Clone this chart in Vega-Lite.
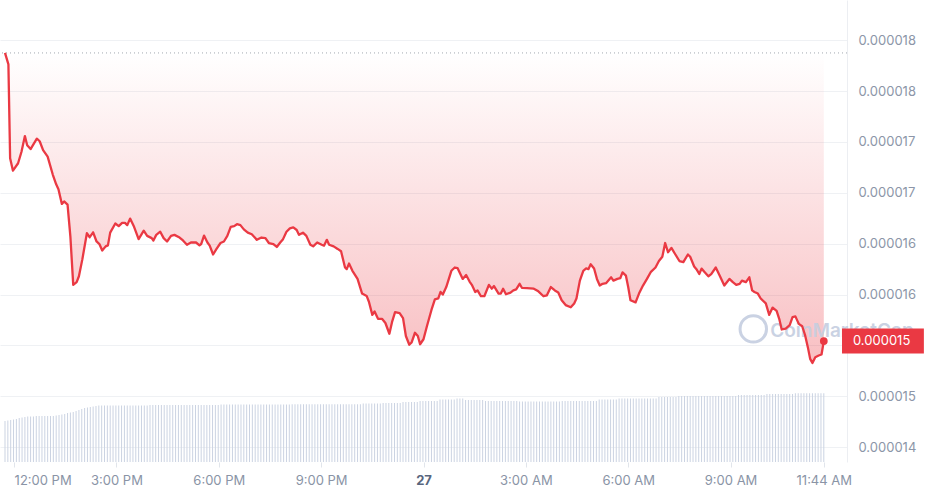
{
"$schema":"https://vega.github.io/schema/vega-lite/v6.json",
"width":847,"height":462,"autosize":{"type":"none"},"padding":{"left":0,"top":0,"right":81,"bottom":33},"background":"#ffffff",
"config":{"view":{"stroke":null},"font":"Inter"},
"datasets":{
"last":[{"t":"2024-06-27T11:44","p":0.000015243}],
"price":[
{"t":"2024-06-26T11:44","p":0.000018075},{"t":"2024-06-26T11:50","p":0.000017962},{"t":"2024-06-26T11:53","p":0.000017039},{"t":"2024-06-26T11:58","p":0.000016918},{"t":"2024-06-26T12:07","p":0.000016991},{"t":"2024-06-26T12:13","p":0.000017104},{"t":"2024-06-26T12:19","p":0.000017258},{"t":"2024-06-26T12:23","p":0.000017168},{"t":"2024-06-26T12:29","p":0.000017130},{"t":"2024-06-26T12:40","p":0.000017232},{"t":"2024-06-26T12:45","p":0.000017207},{"t":"2024-06-26T12:51","p":0.000017120},{"t":"2024-06-26T12:59","p":0.000017056},{"t":"2024-06-26T13:08","p":0.000016880},{"t":"2024-06-26T13:14","p":0.000016784},{"t":"2024-06-26T13:18","p":0.000016736},{"t":"2024-06-26T13:24","p":0.000016591},{"t":"2024-06-26T13:28","p":0.000016616},{"t":"2024-06-26T13:34","p":0.000016585},{"t":"2024-06-26T13:39","p":0.000016270},{"t":"2024-06-26T13:44","p":0.000015796},{"t":"2024-06-26T13:50","p":0.000015822},{"t":"2024-06-26T13:54","p":0.000015880},{"t":"2024-06-26T14:00","p":0.000016046},{"t":"2024-06-26T14:08","p":0.000016303},{"t":"2024-06-26T14:13","p":0.000016264},{"t":"2024-06-26T14:19","p":0.000016312},{"t":"2024-06-26T14:25","p":0.000016222},{"t":"2024-06-26T14:30","p":0.000016197},{"t":"2024-06-26T14:35","p":0.000016133},{"t":"2024-06-26T14:41","p":0.000016174},{"t":"2024-06-26T14:45","p":0.000016184},{"t":"2024-06-26T14:49","p":0.000016309},{"t":"2024-06-26T14:58","p":0.000016399},{"t":"2024-06-26T15:04","p":0.000016373},{"t":"2024-06-26T15:10","p":0.000016405},{"t":"2024-06-26T15:15","p":0.000016405},{"t":"2024-06-26T15:19","p":0.000016383},{"t":"2024-06-26T15:24","p":0.000016447},{"t":"2024-06-26T15:31","p":0.000016366},{"t":"2024-06-26T15:39","p":0.000016245},{"t":"2024-06-26T15:48","p":0.000016328},{"t":"2024-06-26T15:54","p":0.000016277},{"t":"2024-06-26T16:02","p":0.000016255},{"t":"2024-06-26T16:05","p":0.000016232},{"t":"2024-06-26T16:10","p":0.000016287},{"t":"2024-06-26T16:17","p":0.000016318},{"t":"2024-06-26T16:23","p":0.000016255},{"t":"2024-06-26T16:29","p":0.000016222},{"t":"2024-06-26T16:36","p":0.000016277},{"t":"2024-06-26T16:42","p":0.000016287},{"t":"2024-06-26T16:51","p":0.000016261},{"t":"2024-06-26T16:57","p":0.000016232},{"t":"2024-06-26T17:04","p":0.000016190},{"t":"2024-06-26T17:11","p":0.000016212},{"t":"2024-06-26T17:20","p":0.000016212},{"t":"2024-06-26T17:26","p":0.000016184},{"t":"2024-06-26T17:29","p":0.000016197},{"t":"2024-06-26T17:34","p":0.000016280},{"t":"2024-06-26T17:40","p":0.000016212},{"t":"2024-06-26T17:44","p":0.000016181},{"t":"2024-06-26T17:50","p":0.000016094},{"t":"2024-06-26T17:56","p":0.000016149},{"t":"2024-06-26T18:03","p":0.000016207},{"t":"2024-06-26T18:09","p":0.000016222},{"t":"2024-06-26T18:15","p":0.000016277},{"t":"2024-06-26T18:21","p":0.000016366},{"t":"2024-06-26T18:27","p":0.000016373},{"t":"2024-06-26T18:32","p":0.000016392},{"t":"2024-06-26T18:38","p":0.000016383},{"t":"2024-06-26T18:44","p":0.000016341},{"t":"2024-06-26T18:51","p":0.000016309},{"t":"2024-06-26T18:58","p":0.000016293},{"t":"2024-06-26T19:07","p":0.000016238},{"t":"2024-06-26T19:15","p":0.000016261},{"t":"2024-06-26T19:22","p":0.000016255},{"t":"2024-06-26T19:28","p":0.000016207},{"t":"2024-06-26T19:36","p":0.000016197},{"t":"2024-06-26T19:42","p":0.000016168},{"t":"2024-06-26T19:48","p":0.000016212},{"t":"2024-06-26T19:53","p":0.000016245},{"t":"2024-06-26T19:59","p":0.000016318},{"t":"2024-06-26T20:05","p":0.000016351},{"t":"2024-06-26T20:11","p":0.000016361},{"t":"2024-06-26T20:17","p":0.000016335},{"t":"2024-06-26T20:21","p":0.000016287},{"t":"2024-06-26T20:28","p":0.000016309},{"t":"2024-06-26T20:34","p":0.000016277},{"t":"2024-06-26T20:41","p":0.000016190},{"t":"2024-06-26T20:46","p":0.000016174},{"t":"2024-06-26T20:53","p":0.000016212},{"t":"2024-06-26T21:01","p":0.000016190},{"t":"2024-06-26T21:05","p":0.000016181},{"t":"2024-06-26T21:10","p":0.000016238},{"t":"2024-06-26T21:14","p":0.000016190},{"t":"2024-06-26T21:22","p":0.000016174},{"t":"2024-06-26T21:29","p":0.000016149},{"t":"2024-06-26T21:35","p":0.000016126},{"t":"2024-06-26T21:42","p":0.000015966},{"t":"2024-06-26T21:45","p":0.000015950},{"t":"2024-06-26T21:49","p":0.000016005},{"t":"2024-06-26T21:55","p":0.000015934},{"t":"2024-06-26T22:04","p":0.000015854},{"t":"2024-06-26T22:12","p":0.000015710},{"t":"2024-06-26T22:20","p":0.000015687},{"t":"2024-06-26T22:24","p":0.000015630},{"t":"2024-06-26T22:30","p":0.000015501},{"t":"2024-06-26T22:34","p":0.000015534},{"t":"2024-06-26T22:40","p":0.000015462},{"t":"2024-06-26T22:47","p":0.000015462},{"t":"2024-06-26T22:53","p":0.000015421},{"t":"2024-06-26T23:00","p":0.000015315},{"t":"2024-06-26T23:05","p":0.000015437},{"t":"2024-06-26T23:10","p":0.000015527},{"t":"2024-06-26T23:18","p":0.000015517},{"t":"2024-06-26T23:24","p":0.000015469},{"t":"2024-06-26T23:29","p":0.000015293},{"t":"2024-06-26T23:35","p":0.000015207},{"t":"2024-06-26T23:39","p":0.000015229},{"t":"2024-06-26T23:45","p":0.000015325},{"t":"2024-06-26T23:50","p":0.000015293},{"t":"2024-06-26T23:54","p":0.000015212},{"t":"2024-06-27T00:00","p":0.000015261},{"t":"2024-06-27T00:06","p":0.000015389},{"t":"2024-06-27T00:14","p":0.000015549},{"t":"2024-06-27T00:20","p":0.000015652},{"t":"2024-06-27T00:26","p":0.000015662},{"t":"2024-06-27T00:30","p":0.000015726},{"t":"2024-06-27T00:34","p":0.000015700},{"t":"2024-06-27T00:40","p":0.000015774},{"t":"2024-06-27T00:49","p":0.000015934},{"t":"2024-06-27T00:55","p":0.000015966},{"t":"2024-06-27T01:00","p":0.000015960},{"t":"2024-06-27T01:09","p":0.000015854},{"t":"2024-06-27T01:15","p":0.000015892},{"t":"2024-06-27T01:21","p":0.000015828},{"t":"2024-06-27T01:25","p":0.000015796},{"t":"2024-06-27T01:31","p":0.000015726},{"t":"2024-06-27T01:35","p":0.000015741},{"t":"2024-06-27T01:41","p":0.000015684},{"t":"2024-06-27T01:47","p":0.000015684},{"t":"2024-06-27T01:55","p":0.000015796},{"t":"2024-06-27T02:00","p":0.000015758},{"t":"2024-06-27T02:04","p":0.000015784},{"t":"2024-06-27T02:12","p":0.000015710},{"t":"2024-06-27T02:16","p":0.000015710},{"t":"2024-06-27T02:20","p":0.000015758},{"t":"2024-06-27T02:25","p":0.000015703},{"t":"2024-06-27T02:33","p":0.000015719},{"t":"2024-06-27T02:38","p":0.000015741},{"t":"2024-06-27T02:43","p":0.000015751},{"t":"2024-06-27T02:49","p":0.000015806},{"t":"2024-06-27T02:53","p":0.000015767},{"t":"2024-06-27T03:02","p":0.000015764},{"t":"2024-06-27T03:14","p":0.000015758},{"t":"2024-06-27T03:22","p":0.000015732},{"t":"2024-06-27T03:31","p":0.000015684},{"t":"2024-06-27T03:37","p":0.000015693},{"t":"2024-06-27T03:44","p":0.000015774},{"t":"2024-06-27T03:51","p":0.000015741},{"t":"2024-06-27T03:57","p":0.000015721},{"t":"2024-06-27T04:03","p":0.000015645},{"t":"2024-06-27T04:10","p":0.000015597},{"t":"2024-06-27T04:19","p":0.000015575},{"t":"2024-06-27T04:25","p":0.000015613},{"t":"2024-06-27T04:29","p":0.000015662},{"t":"2024-06-27T04:35","p":0.000015837},{"t":"2024-06-27T04:41","p":0.000015934},{"t":"2024-06-27T04:46","p":0.000015957},{"t":"2024-06-27T04:50","p":0.000015950},{"t":"2024-06-27T04:54","p":0.000015998},{"t":"2024-06-27T05:00","p":0.000015957},{"t":"2024-06-27T05:05","p":0.000015854},{"t":"2024-06-27T05:10","p":0.000015789},{"t":"2024-06-27T05:15","p":0.000015806},{"t":"2024-06-27T05:21","p":0.000015812},{"t":"2024-06-27T05:30","p":0.000015870},{"t":"2024-06-27T05:34","p":0.000015837},{"t":"2024-06-27T05:41","p":0.000015854},{"t":"2024-06-27T05:46","p":0.000015861},{"t":"2024-06-27T05:50","p":0.000015918},{"t":"2024-06-27T05:56","p":0.000015886},{"t":"2024-06-27T06:00","p":0.000015774},{"t":"2024-06-27T06:04","p":0.000015645},{"t":"2024-06-27T06:13","p":0.000015623},{"t":"2024-06-27T06:19","p":0.000015710},{"t":"2024-06-27T06:26","p":0.000015789},{"t":"2024-06-27T06:33","p":0.000015854},{"t":"2024-06-27T06:40","p":0.000015924},{"t":"2024-06-27T06:48","p":0.000015966},{"t":"2024-06-27T06:54","p":0.000016030},{"t":"2024-06-27T07:00","p":0.000016072},{"t":"2024-06-27T07:05","p":0.000016207},{"t":"2024-06-27T07:10","p":0.000016116},{"t":"2024-06-27T07:16","p":0.000016159},{"t":"2024-06-27T07:23","p":0.000016094},{"t":"2024-06-27T07:30","p":0.000016030},{"t":"2024-06-27T07:37","p":0.000016020},{"t":"2024-06-27T07:45","p":0.000016094},{"t":"2024-06-27T07:49","p":0.000016072},{"t":"2024-06-27T07:56","p":0.000015976},{"t":"2024-06-27T08:00","p":0.000015950},{"t":"2024-06-27T08:05","p":0.000015902},{"t":"2024-06-27T08:09","p":0.000015955},{"t":"2024-06-27T08:15","p":0.000015918},{"t":"2024-06-27T08:21","p":0.000015880},{"t":"2024-06-27T08:26","p":0.000015902},{"t":"2024-06-27T08:34","p":0.000015966},{"t":"2024-06-27T08:41","p":0.000015886},{"t":"2024-06-27T08:49","p":0.000015789},{"t":"2024-06-27T08:58","p":0.000015854},{"t":"2024-06-27T09:04","p":0.000015822},{"t":"2024-06-27T09:10","p":0.000015796},{"t":"2024-06-27T09:16","p":0.000015806},{"t":"2024-06-27T09:20","p":0.000015837},{"t":"2024-06-27T09:27","p":0.000015822},{"t":"2024-06-27T09:33","p":0.000015870},{"t":"2024-06-27T09:38","p":0.000015741},{"t":"2024-06-27T09:42","p":0.000015726},{"t":"2024-06-27T09:48","p":0.000015710},{"t":"2024-06-27T09:53","p":0.000015662},{"t":"2024-06-27T10:02","p":0.000015613},{"t":"2024-06-27T10:08","p":0.000015501},{"t":"2024-06-27T10:14","p":0.000015572},{"t":"2024-06-27T10:21","p":0.000015539},{"t":"2024-06-27T10:26","p":0.000015453},{"t":"2024-06-27T10:30","p":0.000015357},{"t":"2024-06-27T10:37","p":0.000015366},{"t":"2024-06-27T10:44","p":0.000015399},{"t":"2024-06-27T10:49","p":0.000015479},{"t":"2024-06-27T10:54","p":0.000015486},{"t":"2024-06-27T11:00","p":0.000015412},{"t":"2024-06-27T11:06","p":0.000015389},{"t":"2024-06-27T11:11","p":0.000015303},{"t":"2024-06-27T11:16","p":0.000015181},{"t":"2024-06-27T11:20","p":0.000015068},{"t":"2024-06-27T11:24","p":0.000015027},{"t":"2024-06-27T11:29","p":0.000015085},{"t":"2024-06-27T11:35","p":0.000015101},{"t":"2024-06-27T11:40","p":0.000015111},{"t":"2024-06-27T11:44","p":0.000015243}
],
"vol":[
{"t":"2024-06-26T11:44","v":4.10},{"t":"2024-06-26T11:49","v":4.15},{"t":"2024-06-26T11:54","v":4.20},{"t":"2024-06-26T11:59","v":4.25},
{"t":"2024-06-26T12:04","v":4.30},{"t":"2024-06-26T12:09","v":4.40},{"t":"2024-06-26T12:14","v":4.45},{"t":"2024-06-26T12:19","v":4.50},{"t":"2024-06-26T12:24","v":4.55},{"t":"2024-06-26T12:29","v":4.55},{"t":"2024-06-26T12:34","v":4.55},{"t":"2024-06-26T12:39","v":4.60},{"t":"2024-06-26T12:44","v":4.60},{"t":"2024-06-26T12:49","v":4.60},{"t":"2024-06-26T12:54","v":4.60},{"t":"2024-06-26T12:59","v":4.60},
{"t":"2024-06-26T13:04","v":4.60},{"t":"2024-06-26T13:09","v":4.60},{"t":"2024-06-26T13:14","v":4.65},{"t":"2024-06-26T13:19","v":4.70},{"t":"2024-06-26T13:24","v":4.75},{"t":"2024-06-26T13:29","v":4.80},{"t":"2024-06-26T13:34","v":4.90},{"t":"2024-06-26T13:39","v":4.95},{"t":"2024-06-26T13:44","v":5.00},{"t":"2024-06-26T13:49","v":5.10},{"t":"2024-06-26T13:54","v":5.20},{"t":"2024-06-26T13:59","v":5.30},
{"t":"2024-06-26T14:04","v":5.40},{"t":"2024-06-26T14:09","v":5.45},{"t":"2024-06-26T14:14","v":5.50},{"t":"2024-06-26T14:19","v":5.55},{"t":"2024-06-26T14:24","v":5.60},{"t":"2024-06-26T14:29","v":5.65},{"t":"2024-06-26T14:34","v":5.65},{"t":"2024-06-26T14:39","v":5.65},{"t":"2024-06-26T14:44","v":5.65},{"t":"2024-06-26T14:49","v":5.65},{"t":"2024-06-26T14:54","v":5.65},{"t":"2024-06-26T14:59","v":5.65},
{"t":"2024-06-26T15:04","v":5.65},{"t":"2024-06-26T15:09","v":5.65},{"t":"2024-06-26T15:14","v":5.65},{"t":"2024-06-26T15:19","v":5.65},{"t":"2024-06-26T15:24","v":5.65},{"t":"2024-06-26T15:29","v":5.65},{"t":"2024-06-26T15:34","v":5.65},{"t":"2024-06-26T15:39","v":5.65},{"t":"2024-06-26T15:44","v":5.65},{"t":"2024-06-26T15:49","v":5.65},{"t":"2024-06-26T15:54","v":5.65},{"t":"2024-06-26T15:59","v":5.70},
{"t":"2024-06-26T16:04","v":5.70},{"t":"2024-06-26T16:09","v":5.70},{"t":"2024-06-26T16:14","v":5.70},{"t":"2024-06-26T16:19","v":5.70},{"t":"2024-06-26T16:24","v":5.70},{"t":"2024-06-26T16:29","v":5.70},{"t":"2024-06-26T16:34","v":5.70},{"t":"2024-06-26T16:39","v":5.70},{"t":"2024-06-26T16:44","v":5.70},{"t":"2024-06-26T16:49","v":5.70},{"t":"2024-06-26T16:54","v":5.70},{"t":"2024-06-26T16:59","v":5.70},
{"t":"2024-06-26T17:04","v":5.70},{"t":"2024-06-26T17:09","v":5.70},{"t":"2024-06-26T17:14","v":5.70},{"t":"2024-06-26T17:19","v":5.70},{"t":"2024-06-26T17:24","v":5.70},{"t":"2024-06-26T17:29","v":5.70},{"t":"2024-06-26T17:34","v":5.70},{"t":"2024-06-26T17:39","v":5.70},{"t":"2024-06-26T17:44","v":5.70},{"t":"2024-06-26T17:49","v":5.70},{"t":"2024-06-26T17:54","v":5.70},{"t":"2024-06-26T17:59","v":5.70},
{"t":"2024-06-26T18:04","v":5.75},{"t":"2024-06-26T18:09","v":5.75},{"t":"2024-06-26T18:14","v":5.75},{"t":"2024-06-26T18:19","v":5.75},{"t":"2024-06-26T18:24","v":5.75},{"t":"2024-06-26T18:29","v":5.75},{"t":"2024-06-26T18:34","v":5.75},{"t":"2024-06-26T18:39","v":5.75},{"t":"2024-06-26T18:44","v":5.75},{"t":"2024-06-26T18:49","v":5.75},{"t":"2024-06-26T18:54","v":5.75},{"t":"2024-06-26T18:59","v":5.75},
{"t":"2024-06-26T19:04","v":5.75},{"t":"2024-06-26T19:09","v":5.75},{"t":"2024-06-26T19:14","v":5.75},{"t":"2024-06-26T19:19","v":5.75},{"t":"2024-06-26T19:24","v":5.75},{"t":"2024-06-26T19:29","v":5.75},{"t":"2024-06-26T19:34","v":5.75},{"t":"2024-06-26T19:39","v":5.75},{"t":"2024-06-26T19:44","v":5.75},{"t":"2024-06-26T19:49","v":5.75},{"t":"2024-06-26T19:54","v":5.75},{"t":"2024-06-26T19:59","v":5.75},
{"t":"2024-06-26T20:04","v":5.75},{"t":"2024-06-26T20:09","v":5.78},{"t":"2024-06-26T20:14","v":5.78},{"t":"2024-06-26T20:19","v":5.78},{"t":"2024-06-26T20:24","v":5.78},{"t":"2024-06-26T20:29","v":5.78},{"t":"2024-06-26T20:34","v":5.78},{"t":"2024-06-26T20:39","v":5.78},{"t":"2024-06-26T20:44","v":5.78},{"t":"2024-06-26T20:49","v":5.78},{"t":"2024-06-26T20:54","v":5.78},{"t":"2024-06-26T20:59","v":5.78},
{"t":"2024-06-26T21:04","v":5.78},{"t":"2024-06-26T21:09","v":5.78},{"t":"2024-06-26T21:14","v":5.78},{"t":"2024-06-26T21:19","v":5.78},{"t":"2024-06-26T21:24","v":5.78},{"t":"2024-06-26T21:29","v":5.78},{"t":"2024-06-26T21:34","v":5.78},{"t":"2024-06-26T21:39","v":5.78},{"t":"2024-06-26T21:44","v":5.78},{"t":"2024-06-26T21:49","v":5.78},{"t":"2024-06-26T21:54","v":5.78},{"t":"2024-06-26T21:59","v":5.78},
{"t":"2024-06-26T22:04","v":5.78},{"t":"2024-06-26T22:09","v":5.78},{"t":"2024-06-26T22:14","v":5.85},{"t":"2024-06-26T22:19","v":5.85},{"t":"2024-06-26T22:24","v":5.85},{"t":"2024-06-26T22:29","v":5.85},{"t":"2024-06-26T22:34","v":5.85},{"t":"2024-06-26T22:39","v":5.85},{"t":"2024-06-26T22:44","v":5.85},{"t":"2024-06-26T22:49","v":5.90},{"t":"2024-06-26T22:54","v":5.90},{"t":"2024-06-26T22:59","v":5.90},
{"t":"2024-06-26T23:04","v":5.90},{"t":"2024-06-26T23:09","v":5.90},{"t":"2024-06-26T23:14","v":5.90},{"t":"2024-06-26T23:19","v":5.90},{"t":"2024-06-26T23:24","v":6.00},{"t":"2024-06-26T23:29","v":6.00},{"t":"2024-06-26T23:34","v":6.00},{"t":"2024-06-26T23:39","v":6.00},{"t":"2024-06-26T23:44","v":6.00},{"t":"2024-06-26T23:49","v":6.00},{"t":"2024-06-26T23:54","v":6.10},{"t":"2024-06-26T23:59","v":6.10},
{"t":"2024-06-27T00:04","v":6.10},{"t":"2024-06-27T00:09","v":6.10},{"t":"2024-06-27T00:14","v":6.10},{"t":"2024-06-27T00:19","v":6.10},{"t":"2024-06-27T00:24","v":6.10},{"t":"2024-06-27T00:29","v":6.25},{"t":"2024-06-27T00:34","v":6.25},{"t":"2024-06-27T00:39","v":6.25},{"t":"2024-06-27T00:44","v":6.25},{"t":"2024-06-27T00:49","v":6.25},{"t":"2024-06-27T00:54","v":6.25},{"t":"2024-06-27T00:59","v":6.35},
{"t":"2024-06-27T01:04","v":6.35},{"t":"2024-06-27T01:09","v":6.35},{"t":"2024-06-27T01:14","v":6.20},{"t":"2024-06-27T01:19","v":6.20},{"t":"2024-06-27T01:24","v":6.20},{"t":"2024-06-27T01:29","v":6.20},{"t":"2024-06-27T01:34","v":6.20},{"t":"2024-06-27T01:39","v":6.20},{"t":"2024-06-27T01:44","v":6.20},{"t":"2024-06-27T01:49","v":6.10},{"t":"2024-06-27T01:54","v":6.10},{"t":"2024-06-27T01:59","v":6.10},
{"t":"2024-06-27T02:04","v":6.10},{"t":"2024-06-27T02:09","v":6.10},{"t":"2024-06-27T02:14","v":6.10},{"t":"2024-06-27T02:19","v":6.10},{"t":"2024-06-27T02:24","v":6.10},{"t":"2024-06-27T02:29","v":6.10},{"t":"2024-06-27T02:34","v":6.10},{"t":"2024-06-27T02:39","v":6.10},{"t":"2024-06-27T02:44","v":6.10},{"t":"2024-06-27T02:49","v":6.05},{"t":"2024-06-27T02:54","v":6.05},{"t":"2024-06-27T02:59","v":6.05},
{"t":"2024-06-27T03:04","v":6.05},{"t":"2024-06-27T03:09","v":6.05},{"t":"2024-06-27T03:14","v":6.05},{"t":"2024-06-27T03:19","v":6.05},{"t":"2024-06-27T03:24","v":6.05},{"t":"2024-06-27T03:29","v":6.05},{"t":"2024-06-27T03:34","v":6.05},{"t":"2024-06-27T03:39","v":6.05},{"t":"2024-06-27T03:44","v":6.05},{"t":"2024-06-27T03:49","v":6.05},{"t":"2024-06-27T03:54","v":6.05},{"t":"2024-06-27T03:59","v":6.05},
{"t":"2024-06-27T04:04","v":6.10},{"t":"2024-06-27T04:09","v":6.10},{"t":"2024-06-27T04:14","v":6.10},{"t":"2024-06-27T04:19","v":6.10},{"t":"2024-06-27T04:24","v":6.10},{"t":"2024-06-27T04:29","v":6.10},{"t":"2024-06-27T04:34","v":6.10},{"t":"2024-06-27T04:39","v":6.10},{"t":"2024-06-27T04:44","v":6.10},{"t":"2024-06-27T04:49","v":6.10},{"t":"2024-06-27T04:54","v":6.10},{"t":"2024-06-27T04:59","v":6.10},
{"t":"2024-06-27T05:04","v":6.10},{"t":"2024-06-27T05:09","v":6.25},{"t":"2024-06-27T05:14","v":6.25},{"t":"2024-06-27T05:19","v":6.25},{"t":"2024-06-27T05:24","v":6.25},{"t":"2024-06-27T05:29","v":6.25},{"t":"2024-06-27T05:34","v":6.25},{"t":"2024-06-27T05:39","v":6.25},{"t":"2024-06-27T05:44","v":6.35},{"t":"2024-06-27T05:49","v":6.35},{"t":"2024-06-27T05:54","v":6.35},{"t":"2024-06-27T05:59","v":6.35},
{"t":"2024-06-27T06:04","v":6.35},{"t":"2024-06-27T06:09","v":6.35},{"t":"2024-06-27T06:14","v":6.35},{"t":"2024-06-27T06:19","v":6.35},{"t":"2024-06-27T06:24","v":6.35},{"t":"2024-06-27T06:29","v":6.35},{"t":"2024-06-27T06:34","v":6.35},{"t":"2024-06-27T06:39","v":6.35},{"t":"2024-06-27T06:44","v":6.35},{"t":"2024-06-27T06:49","v":6.35},{"t":"2024-06-27T06:54","v":6.50},{"t":"2024-06-27T06:59","v":6.50},
{"t":"2024-06-27T07:04","v":6.50},{"t":"2024-06-27T07:09","v":6.50},{"t":"2024-06-27T07:14","v":6.50},{"t":"2024-06-27T07:19","v":6.50},{"t":"2024-06-27T07:24","v":6.50},{"t":"2024-06-27T07:29","v":6.60},{"t":"2024-06-27T07:34","v":6.60},{"t":"2024-06-27T07:39","v":6.60},{"t":"2024-06-27T07:44","v":6.60},{"t":"2024-06-27T07:49","v":6.60},{"t":"2024-06-27T07:54","v":6.60},{"t":"2024-06-27T07:59","v":6.60},
{"t":"2024-06-27T08:04","v":6.60},{"t":"2024-06-27T08:09","v":6.60},{"t":"2024-06-27T08:14","v":6.60},{"t":"2024-06-27T08:19","v":6.60},{"t":"2024-06-27T08:24","v":6.60},{"t":"2024-06-27T08:29","v":6.60},{"t":"2024-06-27T08:34","v":6.60},{"t":"2024-06-27T08:39","v":6.60},{"t":"2024-06-27T08:44","v":6.60},{"t":"2024-06-27T08:49","v":6.60},{"t":"2024-06-27T08:54","v":6.60},{"t":"2024-06-27T08:59","v":6.60},
{"t":"2024-06-27T09:04","v":6.60},{"t":"2024-06-27T09:09","v":6.60},{"t":"2024-06-27T09:14","v":6.70},{"t":"2024-06-27T09:19","v":6.70},{"t":"2024-06-27T09:24","v":6.70},{"t":"2024-06-27T09:29","v":6.70},{"t":"2024-06-27T09:34","v":6.70},{"t":"2024-06-27T09:39","v":6.70},{"t":"2024-06-27T09:44","v":6.70},{"t":"2024-06-27T09:49","v":6.70},{"t":"2024-06-27T09:54","v":6.70},{"t":"2024-06-27T09:59","v":6.70},
{"t":"2024-06-27T10:04","v":6.80},{"t":"2024-06-27T10:09","v":6.80},{"t":"2024-06-27T10:14","v":6.80},{"t":"2024-06-27T10:19","v":6.80},{"t":"2024-06-27T10:24","v":6.80},{"t":"2024-06-27T10:29","v":6.80},{"t":"2024-06-27T10:34","v":6.80},{"t":"2024-06-27T10:39","v":6.80},{"t":"2024-06-27T10:44","v":6.80},{"t":"2024-06-27T10:49","v":6.80},{"t":"2024-06-27T10:54","v":6.87},{"t":"2024-06-27T10:59","v":6.87},
{"t":"2024-06-27T11:04","v":6.87},{"t":"2024-06-27T11:09","v":6.87},{"t":"2024-06-27T11:14","v":6.87},{"t":"2024-06-27T11:19","v":6.87},{"t":"2024-06-27T11:24","v":6.87},{"t":"2024-06-27T11:29","v":6.87},{"t":"2024-06-27T11:34","v":6.87},{"t":"2024-06-27T11:39","v":6.87},{"t":"2024-06-27T11:44","v":6.87}
]
},
"layer":[
{
"data":{"name":"vol"},
"mark":{"type":"bar","width":1,"color":"#cbd3e2"},
"encoding":{
"x":{"field":"t","type":"temporal","scale":{"domain":[{"year":2024,"month":6,"date":26,"hours":11,"minutes":44},{"year":2024,"month":6,"date":27,"hours":12,"minutes":16}]},
"axis":{"title":null,"grid":false,"domain":false,"ticks":true,"tickColor":"#e1e5eb","tickSize":5,"labelPadding":7,"labelFontSize":13,"labelFont":"Inter","labelFlush":false,"labelOverlap":false,
"labelAlign":{"condition":{"test":"hours(datum.value)==12","value":"left"},"value":"center"},
"encoding":{"labels":{"dx":{"signal":"hours(datum.value)==12 ? -7 : 0"}}},
"labelColor":{"condition":{"test":"hours(datum.value)==0","value":"#58667e"},"value":"#8a94a6"},
"labelFontWeight":{"condition":{"test":"hours(datum.value)==0","value":"bold"},"value":"normal"},
"labelExpr":"hours(datum.value)==0 ? timeFormat(datum.value,'%d') : timeFormat(datum.value,'%-I:%M %p')",
"values":[{"year":2024,"month":6,"date":26,"hours":12},{"year":2024,"month":6,"date":26,"hours":15},{"year":2024,"month":6,"date":26,"hours":18},{"year":2024,"month":6,"date":26,"hours":21},{"year":2024,"month":6,"date":27,"hours":0},{"year":2024,"month":6,"date":27,"hours":3},{"year":2024,"month":6,"date":27,"hours":6},{"year":2024,"month":6,"date":27,"hours":9},{"year":2024,"month":6,"date":27,"hours":11,"minutes":44}]}},
"y":{"field":"v","type":"quantitative","scale":{"domain":[0,46.2],"nice":false,"zero":true},"axis":null}
}
},
{
"data":{"name":"price"},
"layer":[
{
"mark":{"type":"area","line":false,"fill":{"gradient":"linear","x1":0,"y1":0,"x2":0,"y2":1,"stops":[{"offset":0,"color":"rgba(234,57,67,0.0)"},{"offset":1,"color":"rgba(234,57,67,0.32)"}]}},
"encoding":{
"x":{"field":"t","type":"temporal","scale":{"domain":[{"year":2024,"month":6,"date":26,"hours":11,"minutes":44},{"year":2024,"month":6,"date":27,"hours":12,"minutes":16}]}},
"y":{"field":"p","type":"quantitative","scale":{"domain":[0.0000141038,0.0000185462],"nice":false,"zero":false},
"axis":{"orient":"right","title":null,"values":[0.0000142,0.0000147,0.0000152,0.0000157,0.0000162,0.0000167,0.0000172,0.0000177,0.0000182],"format":".6f","grid":true,"gridColor":"#eff1f4","ticks":false,"domain":true,"domainColor":"#eceef2","labelColor":"#8c96a8","labelFontSize":13,"labelFont":"Inter","labelPadding":11}},
"y2":{"datum":0.000018075}
}
},
{
"data":{"values":[{}]},
"mark":{"type":"rule","color":"#a3a8b0","strokeDash":[1,3],"strokeWidth":1},
"encoding":{"y":{"datum":0.000018075,"type":"quantitative","scale":{"domain":[0.0000141038,0.0000185462],"nice":false,"zero":false}}}
},
{
"data":{"values":[{}]},
"mark":{"type":"text","text":"CoinMarketCap","align":"center","baseline":"middle","fontSize":19,"fontWeight":600,"font":"Inter","color":"#c5cee0","opacity":0.9},
"encoding":{
"x":{"datum":{"year":2024,"month":6,"date":27,"hours":12,"minutes":16},"type":"temporal","scale":{"domain":[{"year":2024,"month":6,"date":26,"hours":11,"minutes":44},{"year":2024,"month":6,"date":27,"hours":12,"minutes":16}]}},
"y":{"datum":0.000015344,"type":"quantitative","scale":{"domain":[0.0000141038,0.0000185462],"nice":false,"zero":false}}
}
},
{
"data":{"values":[{}]},
"mark":{"type":"point","shape":"circle","filled":false,"size":700,"strokeWidth":3,"color":"#c5cee0","opacity":0.9},
"encoding":{
"x":{"datum":{"year":2024,"month":6,"date":27,"hours":9,"minutes":40},"type":"temporal","scale":{"domain":[{"year":2024,"month":6,"date":26,"hours":11,"minutes":44},{"year":2024,"month":6,"date":27,"hours":12,"minutes":16}]}},
"y":{"datum":0.000015363,"type":"quantitative","scale":{"domain":[0.0000141038,0.0000185462],"nice":false,"zero":false}}
}
},
{
"mark":{"type":"line","color":"#ea3943","strokeWidth":2.3,"strokeJoin":"round"},
"encoding":{
"x":{"field":"t","type":"temporal","scale":{"domain":[{"year":2024,"month":6,"date":26,"hours":11,"minutes":44},{"year":2024,"month":6,"date":27,"hours":12,"minutes":16}]}},
"y":{"field":"p","type":"quantitative","scale":{"domain":[0.0000141038,0.0000185462],"nice":false,"zero":false}}
}
},
{
"data":{"name":"last"},
"mark":{"type":"point","filled":true,"size":60,"color":"#ea3943","opacity":1},
"encoding":{
"x":{"field":"t","type":"temporal","scale":{"domain":[{"year":2024,"month":6,"date":26,"hours":11,"minutes":44},{"year":2024,"month":6,"date":27,"hours":12,"minutes":16}]}},
"y":{"field":"p","type":"quantitative","scale":{"domain":[0.0000141038,0.0000185462],"nice":false,"zero":false}}
}
},
{
"data":{"name":"last"},
"mark":{"type":"bar","orient":"horizontal","size":25,"color":"#ea3943"},
"encoding":{
"x":{"datum":{"year":2024,"month":6,"date":27,"hours":12,"minutes":16},"type":"temporal","scale":{"domain":[{"year":2024,"month":6,"date":26,"hours":11,"minutes":44},{"year":2024,"month":6,"date":27,"hours":12,"minutes":16}]}},
"x2":{"datum":{"year":2024,"month":6,"date":27,"hours":14,"minutes":40}},
"y":{"field":"p","type":"quantitative","scale":{"domain":[0.0000141038,0.0000185462],"nice":false,"zero":false}}
}
},
{
"data":{"name":"last"},
"mark":{"type":"text","align":"left","baseline":"middle","dx":11,"fontSize":13,"font":"Inter","color":"#ffffff"},
"encoding":{
"x":{"datum":{"year":2024,"month":6,"date":27,"hours":12,"minutes":16},"type":"temporal","scale":{"domain":[{"year":2024,"month":6,"date":26,"hours":11,"minutes":44},{"year":2024,"month":6,"date":27,"hours":12,"minutes":16}]}},
"y":{"field":"p","type":"quantitative","scale":{"domain":[0.0000141038,0.0000185462],"nice":false,"zero":false}},
"text":{"field":"p","type":"quantitative","format":".6f"}
}
}
]
}
],
"resolve":{"scale":{"y":"independent"}}
}
